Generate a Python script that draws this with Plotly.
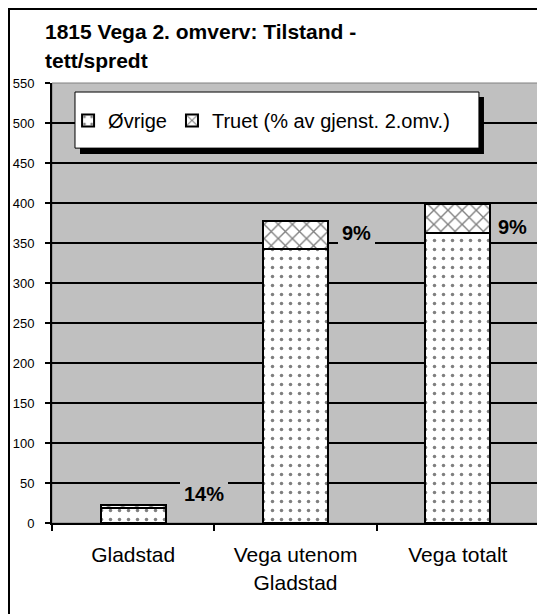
import plotly.graph_objects as go

# ---- data ----
categories = ["Gladstad", "Vega utenom<br>Gladstad", "Vega totalt"]
ovrige = [19, 343, 362]
truet = [3, 34, 37]
pct_labels = ["14%", "9%", "9%"]
series_names = ["Øvrige", "Truet (% av gjenst. 2.omv.)"]
title_lines = ["1815 Vega 2. omverv: Tilstand -", "tett/spredt"]
y_ticks = list(range(0, 551, 50))

# ---- style ----
FONT = "Arial, Liberation Sans, sans-serif"
PLOT_BG = "#C0C0C0"
label_dx = [47, 42, 36]
label_dy = [13, 2, -8]

fig = go.Figure()
fig.add_trace(go.Bar(
    x=categories, y=ovrige, name=series_names[0],
    marker=dict(color="white", line=dict(color="black", width=2),
                pattern=dict(shape=".", fgcolor="black", bgcolor="white",
                             size=9, solidity=0.12)),
    width=0.4,
))
fig.add_trace(go.Bar(
    x=categories, y=truet, name=series_names[1],
    marker=dict(color="white", line=dict(color="black", width=2),
                pattern=dict(shape="x", fgcolor="black", bgcolor="white",
                             size=10, solidity=0.25)),
    width=0.4,
))

annotations = []
for i, c in enumerate(categories):
    annotations.append(dict(
        x=c, y=ovrige[i] + truet[i] / 2, xref="x", yref="y",
        text="<b>%s</b>" % pct_labels[i], showarrow=False,
        xanchor="left", yanchor="middle",
        xshift=label_dx[i], yshift=label_dy[i],
        bgcolor=PLOT_BG, borderpad=4, borderwidth=0,
        font=dict(family=FONT, size=20, color="black"),
    ))

title_y = [1.118, 1.052]
for t, ty in zip(title_lines, title_y):
    annotations.append(dict(
        x=-0.018, y=ty, xref="paper", yref="paper", text="<b>%s</b>" % t,
        showarrow=False, xanchor="left", yanchor="middle",
        font=dict(family=FONT, size=21, color="black"),
    ))

shapes = [
    # outer chart frame (left/top visible)
    dict(type="rect", xref="paper", yref="paper", x0=-0.0883, x1=1.2,
         y0=-0.3, y1=1.168, line=dict(color="black", width=2),
         fillcolor="rgba(0,0,0,0)", layer="above"),
    # plot area border
    dict(type="rect", xref="paper", yref="paper", x0=0, x1=1, y0=0, y1=1,
         line=dict(color="#808080", width=1), fillcolor="rgba(0,0,0,0)",
         layer="below"),
    # legend shadow
    dict(type="rect", xref="paper", yref="paper", x0=0.0575, x1=0.887,
         y0=0.8386, y1=0.968, line=dict(width=0), fillcolor="black",
         layer="above"),
    # legend box
    dict(type="rect", xref="paper", yref="paper", x0=0.0472, x1=0.8767,
         y0=0.852, y1=0.9795, line=dict(color="black", width=1),
         fillcolor="white", layer="above"),
]

fig.update_layout(
    width=537, height=606,
    margin=dict(l=44, r=6, t=75, b=91, autoexpand=False),
    barmode="stack",
    paper_bgcolor="white",
    plot_bgcolor=PLOT_BG,
    font=dict(family=FONT, color="black"),
    showlegend=True,
    legend=dict(
        orientation="h", x=0.033, y=0.915, xanchor="left", yanchor="middle",
        bgcolor="rgba(0,0,0,0)", borderwidth=0,
        font=dict(family=FONT, size=20, color="black"),
        traceorder="normal",
    ),
    annotations=annotations,
    shapes=shapes,
    xaxis=dict(
        type="category", tickson="boundaries", ticks="outside", ticklen=6,
        tickcolor="black", tickwidth=2, automargin=False,
        showline=True, linecolor="black", linewidth=2,
        showgrid=False, tickfont=dict(family=FONT, size=21, color="black"),
        ticklabelstandoff=12,
    ),
    yaxis=dict(
        range=[0, 550], tickvals=y_ticks, ticks="outside", ticklen=5,
        tickcolor="black", tickwidth=2, automargin=False,
        showline=True, linecolor="black", linewidth=2,
        showgrid=True, gridcolor="black", gridwidth=2, zeroline=False,
        tickfont=dict(family=FONT, size=13, color="black"),
        ticklabelstandoff=8,
    ),
    bargap=0.6,
)

fig.write_html("out.html")
